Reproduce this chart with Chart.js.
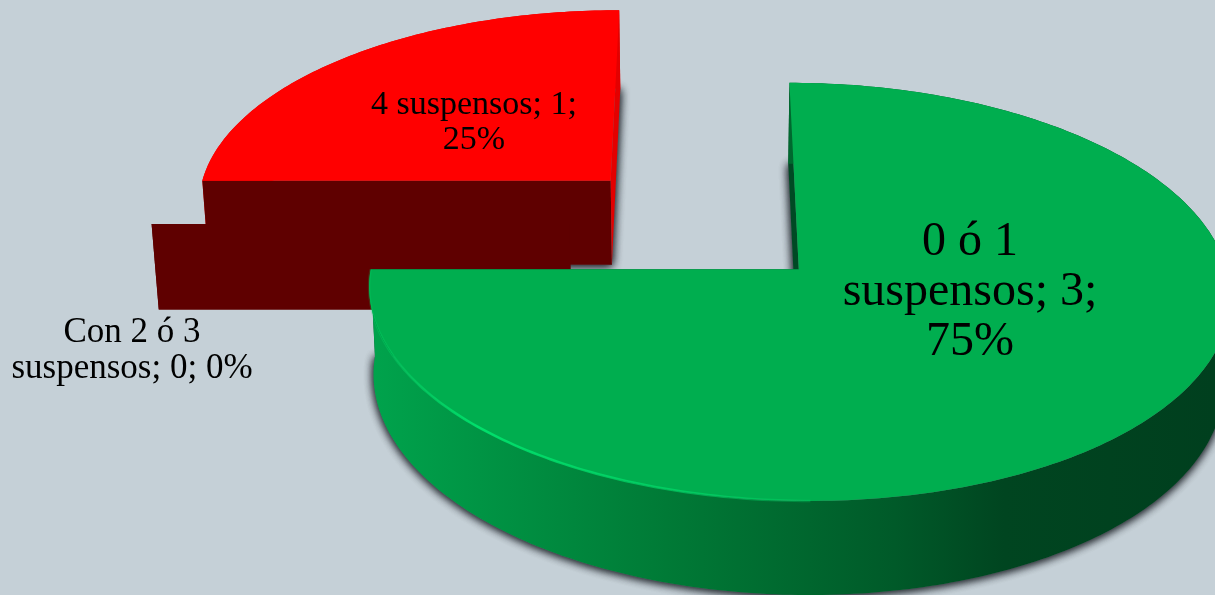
<!DOCTYPE html>
<html>
<head>
<meta charset="utf-8">
<style>
  html, body { margin: 0; padding: 0; background: #c5d0d7; overflow: hidden; }
  canvas { display: block; }
</style>
<script src="https://cdn.jsdelivr.net/npm/chart.js@4"></script>
</head>
<body>
<canvas id="piechart" width="1215" height="595"></canvas>
<script>
// datos
var categories = ["0 ó 1 suspensos", "Con 2 ó 3 suspensos", "4 suspensos"];
var counts = [3, 0, 1];
var percents = [75, 0, 25];
var topColors = ["#00ae4f", "#5f0000", "#ff0000"];

// donde va cada etiqueta: centro x, primera linea y, tamano, alto de linea, ancho max
var labelBoxes = [
  { x: 970, y: 255, size: 48, lead: 50, wrap: 262 },
  { x: 132, y: 342, size: 35, lead: 36, wrap: 250 },
  { x: 474, y: 114, size: 34, lead: 35, wrap: 225 }
];

// perspectiva del pastel
var X0 = 702.5, Y0 = 224, SX = 418, SY = 197, K = 0.105;
var EXPLODE = 0.318, DEPTH = 85.5, SHRINK = 0.987;

function project(u, v, low) {
  var w = 1 - K * v;
  var x = X0 + SX * u / w;
  var y = Y0 + SY * v / w;
  if (low) {
    x = X0 + (x - X0) * SHRINK;
    y = y + DEPTH / Math.pow(w, 0.7);
  }
  return [x, y];
}

function rimPoints(a0, a1, ox, oy, low) {
  var pts = [];
  var steps = Math.max(1, Math.ceil(Math.abs(a1 - a0) * 60));
  for (var i = 0; i <= steps; i++) {
    var a = a0 + (a1 - a0) * i / steps;
    pts.push(project(ox + Math.cos(a), oy + Math.sin(a), low));
  }
  return pts;
}

function fillPoly(ctx, pts, style) {
  ctx.beginPath();
  pts.forEach(function(p, i) {
    if (i == 0) ctx.moveTo(p[0], p[1]); else ctx.lineTo(p[0], p[1]);
  });
  ctx.closePath();
  ctx.fillStyle = style;
  ctx.fill();
}

function drawSlice(ctx, arc, index) {
  var a0 = arc.startAngle, a1 = arc.endAngle;
  var mid = (a0 + a1) / 2;
  var ox = Math.cos(mid) * EXPLODE, oy = Math.sin(mid) * EXPLODE;
  var color = topColors[index];

  var topRim = rimPoints(a0, a1, ox, oy, false);
  var lowRim = rimPoints(a0, a1, ox, oy, true);
  var apexTop = project(ox, oy, false);
  var apexLow = project(ox, oy, true);
  var first = 0, last = topRim.length - 1;

  // sombra de la cara de abajo
  if (a1 > a0) {
    ctx.save();
    ctx.shadowColor = "rgba(20,25,30,0.85)";
    ctx.shadowBlur = 10;
    ctx.shadowOffsetX = 0;
    ctx.shadowOffsetY = 1;
    fillPoly(ctx, [apexLow].concat(lowRim), "#5f6a70");
    fillPoly(ctx, [apexLow].concat(lowRim), "#5f6a70");
    ctx.restore();
  }

  // pared curva
  var wall = ctx.createLinearGradient(372, 0, 1215, 0);
  if (index == 0) {
    wall.addColorStop(0, "#00a34c");
    wall.addColorStop(0.35, "#007a36");
    wall.addColorStop(0.62, "#005a29");
    wall.addColorStop(0.75, "#004520");
    wall.addColorStop(1, "#003f1e");
  } else {
    wall.addColorStop(0, "#e30000");
    wall.addColorStop(1, "#e30000");
  }
  var wallPoly = topRim.concat(lowRim.slice().reverse());

  // en el rojo la pared curva queda detras de las rectas
  if (index == 2) fillPoly(ctx, wallPoly, wall);

  // paredes rectas
  var sideA = index == 0 ? "#004a24" : index == 2 ? "#e30000" : "#5f0000";
  var sideB = index == 0 ? "#004a24" : "#5f0000";
  fillPoly(ctx, [apexTop, topRim[first], lowRim[first], apexLow], index == 2 ? sideB : sideA);
  fillPoly(ctx, [apexTop, topRim[last], lowRim[last], apexLow], index == 2 ? sideA : sideB);

  if (a1 <= a0) return;

  if (index == 0) fillPoly(ctx, wallPoly, wall);

  // cara de arriba
  fillPoly(ctx, [apexTop].concat(topRim), color);

  // brillo en el borde delantero izquierdo
  if (index == 0) {
    var front = rimPoints(Math.PI, Math.PI / 2, ox, oy, false);
    var glow = ctx.createLinearGradient(372, 0, 900, 0);
    glow.addColorStop(0, "rgba(0,225,105,0.2)");
    glow.addColorStop(0.2, "rgba(0,230,110,0.9)");
    glow.addColorStop(0.65, "rgba(0,230,110,0.5)");
    glow.addColorStop(1, "rgba(0,225,105,0)");
    ctx.beginPath();
    front.forEach(function(p, i) {
      if (i == 0) ctx.moveTo(p[0], p[1]); else ctx.lineTo(p[0], p[1]);
    });
    ctx.strokeStyle = glow;
    ctx.lineWidth = 2.5;
    ctx.stroke();
  }
}

function drawLabels(ctx) {
  categories.forEach(function(cat, i) {
    var box = labelBoxes[i];
    var text = cat + "; " + counts[i] + "; " + percents[i] + "%";
    ctx.font = box.size + "px 'Liberation Serif'";
    ctx.fillStyle = "#000000";
    ctx.textAlign = "center";
    ctx.textBaseline = "alphabetic";
    var lines = [], line = "";
    text.split(" ").forEach(function(word) {
      var next = line ? line + " " + word : word;
      if (ctx.measureText(next).width > box.wrap && line) {
        lines.push(line);
        line = word;
      } else {
        line = next;
      }
    });
    lines.push(line);
    lines.forEach(function(l, n) {
      ctx.fillText(l, box.x, box.y + n * box.lead);
    });
  });
}

var pie3d = {
  id: "pie3d",
  beforeDatasetsDraw: function(chart) {
    var ctx = chart.ctx;
    var arcs = chart.getDatasetMeta(0).data;
    // de atras hacia adelante
    [2, 1, 0].forEach(function(i) {
      drawSlice(ctx, arcs[i], i);
    });
    drawLabels(ctx);
    return false;
  }
};

var ctx = document.getElementById("piechart").getContext("2d");
var chart = new Chart(ctx, {
  type: "pie",
  data: {
    labels: categories,
    datasets: [{
      data: counts,
      backgroundColor: topColors,
      borderWidth: 0
    }]
  },
  options: {
    responsive: false,
    animation: false,
    plugins: {
      legend: { display: false },
      tooltip: { enabled: false }
    }
  },
  plugins: [pie3d]
});
</script>
</body>
</html>
